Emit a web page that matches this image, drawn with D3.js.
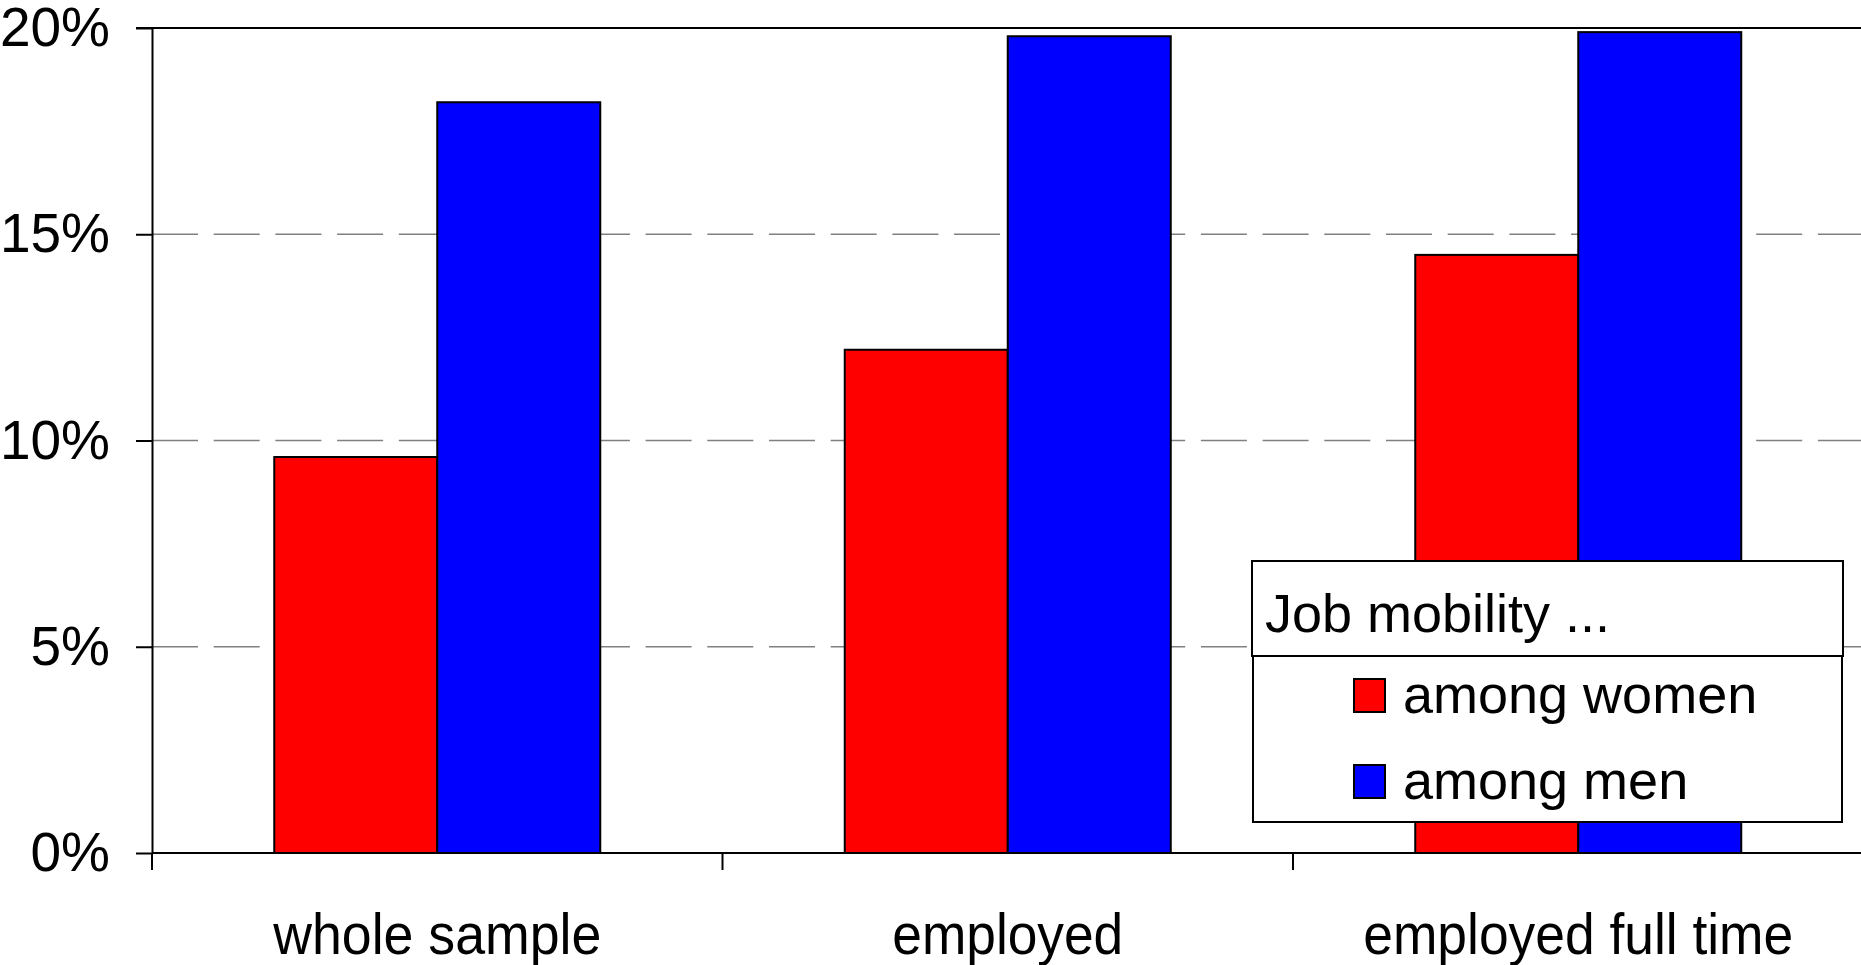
<!DOCTYPE html>
<html>
<head>
<meta charset="utf-8">
<script src="https://cdn.jsdelivr.net/npm/d3@7"></script>
<style>
  html, body { margin: 0; padding: 0; background: #fff; }
  svg { display: block; font-family: "Liberation Sans", Arial, sans-serif; }
</style>
</head>
<body>
<div class="chartContainer"></div>
<script>
var categories = ["whole sample", "employed", "employed full time"];
var seriesNames = ["among women", "among men"];
var women = [9.6, 12.2, 14.5];
var men = [18.2, 19.8, 19.9];
var yTicks = [0, 5, 10, 15, 20];
var legendTitle = "Job mobility ...";

var svgWidth = 1861;
var svgHeight = 965;
var colors = ["#ff0000", "#0000ff"];

var plotLeft = 152, plotRight = 1863.5, plotTop = 28, plotBottom = 853;

var svg = d3.select('div.chartContainer').append('svg')
    .attr('width', svgWidth).attr('height', svgHeight);

var x0 = d3.scaleBand().domain(categories).range([plotLeft, plotRight]).padding(0);
var x1 = d3.scaleBand().domain(seriesNames).range([0, x0.bandwidth()])
    .paddingInner(0).paddingOuter(0.75);
var y = d3.scaleLinear().domain([0, 20]).range([plotBottom, plotTop]);

// dashed gridlines
svg.append('g').selectAll('line')
    .data(yTicks.filter(function(d) { return d > 0 && d < 20; }))
    .enter().append('line')
    .attr('x1', plotLeft).attr('x2', svgWidth)
    .attr('y1', function(d) { return y(d); })
    .attr('y2', function(d) { return y(d); })
    .attr('stroke', '#808080').attr('stroke-width', 1.4)
    .attr('stroke-dasharray', '46,15.7');

// top border
svg.append('line')
    .attr('x1', plotLeft - 16).attr('x2', svgWidth)
    .attr('y1', y(20)).attr('y2', y(20))
    .attr('stroke', '#000').attr('stroke-width', 2);

// bars
var rows = categories.map(function(c, i) {
    return { cat: c, values: [women[i], men[i]] };
});
var groups = svg.append('g').selectAll('g')
    .data(rows).enter().append('g')
    .attr('transform', function(d) { return 'translate(' + x0(d.cat) + ',0)'; });
groups.selectAll('rect')
    .data(function(d) {
        return d.values.map(function(v, j) { return { name: seriesNames[j], value: v, j: j }; });
    })
    .enter().append('rect')
    .attr('x', function(d) { return x1(d.name); })
    .attr('width', x1.bandwidth())
    .attr('y', function(d) { return y(d.value); })
    .attr('height', function(d) { return y(0) - y(d.value); })
    .attr('fill', function(d) { return colors[d.j]; })
    .attr('stroke', '#000').attr('stroke-width', 2);

// y axis
var yAxis = d3.axisLeft(y).tickValues(yTicks)
    .tickFormat(function(d) { return d + '%'; })
    .tickSize(16).tickSizeOuter(0).tickPadding(26);
var gy = svg.append('g').attr('transform', 'translate(' + plotLeft + ',0)').call(yAxis);
gy.select('.domain').attr('stroke-width', 2);
gy.selectAll('.tick line').attr('stroke-width', 2);
gy.selectAll('.tick text')
    .attr('font-size', 55).attr('font-family', '"Liberation Sans", Arial, sans-serif')
    .attr('fill', '#000');

// x axis line and ticks at category boundaries
svg.append('line')
    .attr('x1', plotLeft).attr('x2', svgWidth)
    .attr('y1', plotBottom).attr('y2', plotBottom)
    .attr('stroke', '#000').attr('stroke-width', 2);
svg.append('g').selectAll('line')
    .data(categories)
    .enter().append('line')
    .attr('x1', function(d) { return x0(d); })
    .attr('x2', function(d) { return x0(d); })
    .attr('y1', plotBottom).attr('y2', plotBottom + 17)
    .attr('stroke', '#000').attr('stroke-width', 2);

var labelWidths = [328, 231, 430];
svg.append('g').selectAll('text')
    .data(categories).enter().append('text')
    .attr('x', function(d) { return x0(d) + x0.bandwidth() / 2; })
    .attr('y', 954)
    .attr('text-anchor', 'middle')
    .attr('font-size', 57)
    .attr('textLength', function(d, i) { return labelWidths[i]; })
    .attr('lengthAdjust', 'spacingAndGlyphs')
    .text(function(d) { return d; });

// legend
var legend = svg.append('g');
legend.append('rect')
    .attr('x', 1252).attr('y', 561).attr('width', 591).attr('height', 95)
    .attr('fill', '#fff').attr('stroke', '#000').attr('stroke-width', 2);
legend.append('rect')
    .attr('x', 1253).attr('y', 656).attr('width', 589).attr('height', 166)
    .attr('fill', '#fff').attr('stroke', '#000').attr('stroke-width', 2);
legend.append('text')
    .attr('x', 1265).attr('y', 632)
    .attr('font-size', 54)
    .text(legendTitle);
var items = legend.selectAll('g.item')
    .data(seriesNames).enter().append('g')
    .attr('class', 'item')
    .attr('transform', function(d, i) { return 'translate(0,' + (i * 86) + ')'; });
items.append('rect')
    .attr('x', 1354).attr('y', 679).attr('width', 31).attr('height', 33)
    .attr('fill', function(d, i) { return colors[i]; })
    .attr('stroke', '#000').attr('stroke-width', 2);
items.append('text')
    .attr('x', 1403).attr('y', 713)
    .attr('font-size', 54)
    .text(function(d) { return d; });
</script>
</body>
</html>
